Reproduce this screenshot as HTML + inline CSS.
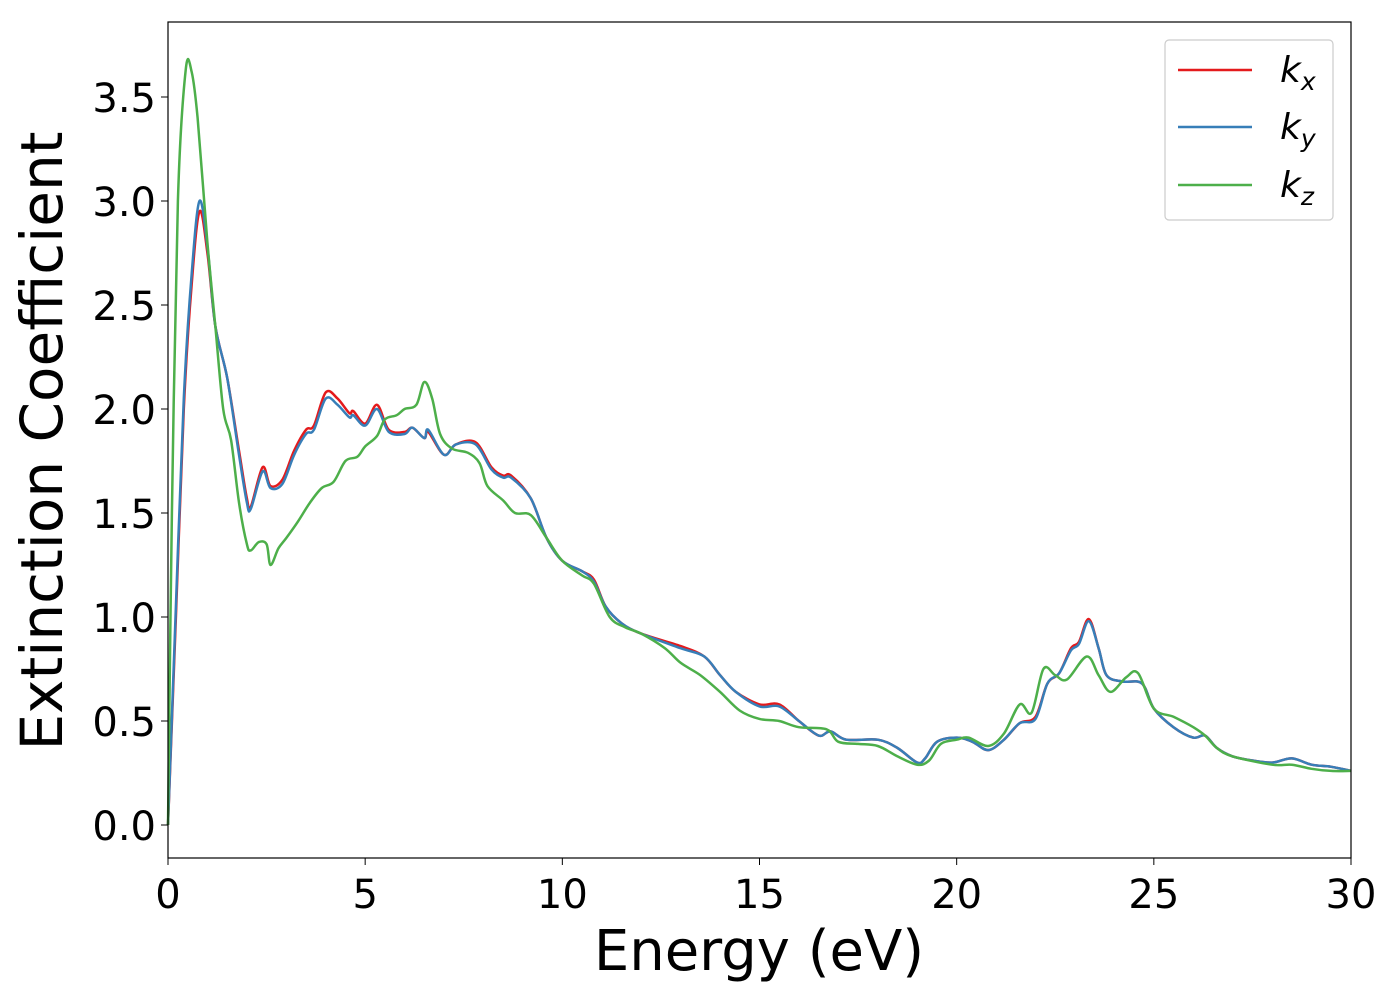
<!DOCTYPE html>
<html><head><meta charset="utf-8"><style>
body{margin:0;background:#fff;}
svg{display:block;font-family:"DejaVu Sans","Liberation Sans",sans-serif;}
</style></head><body>
<svg id="chart" width="1400" height="1000">
<rect x="0" y="0" width="1400" height="1000" fill="#fff"/>
<g id="series"></g>
<g id="xticks"></g>
<g id="yticks"></g>
<rect x="168" y="22" width="1183" height="836" fill="none" stroke="#000" stroke-width="1.2"/>
<text x="759" y="970" font-size="56" text-anchor="middle">Energy (eV)</text>
<text transform="translate(62,441) rotate(-90)" font-size="58" text-anchor="middle">Extinction Coefficient</text>
<g>
<rect x="1165" y="40" width="168" height="180" rx="4" fill="#fff" stroke="#ccc" stroke-width="1.2"/>
<g><line x1="1178" y1="70" x2="1252" y2="70" stroke="#e41a1c" stroke-width="2.5"/><text x="1280" y="82" font-size="36" font-style="italic">k<tspan font-size="25" dy="8">x</tspan></text></g>
<g><line x1="1178" y1="127" x2="1252" y2="127" stroke="#377eb8" stroke-width="2.5"/><text x="1280" y="139" font-size="36" font-style="italic">k<tspan font-size="25" dy="8">y</tspan></text></g>
<g><line x1="1178" y1="185" x2="1252" y2="185" stroke="#4daf4a" stroke-width="2.5"/><text x="1280" y="197" font-size="36" font-style="italic">k<tspan font-size="25" dy="8">z</tspan></text></g>
</g>
</svg>
<script>
const xTicks=[0,5,10,15,20,25,30];
const yTicks=[0,0.5,1.0,1.5,2.0,2.5,3.0,3.5];
const eXY=[0,0.2,0.4,0.6,0.8,1.0,1.2,1.5,1.8,2.0,2.1,2.4,2.6,2.9,3.2,3.5,3.7,4.0,4.3,4.6,4.7,5.0,5.3,5.6,6.0,6.2,6.5,6.6,7.0,7.3,7.8,8.2,8.5,8.7,9.2,9.6,10.0,10.5,10.8,11.1,11.5,12.0,13.0,13.6,14.0,14.4,15.0,15.5,16.0,16.5,16.8,17.2,18.0,18.5,19.0,19.2,19.5,20.0,20.4,20.8,21.2,21.6,22.0,22.3,22.6,22.9,23.1,23.35,23.6,23.8,24.2,24.7,25.0,25.5,26.0,26.3,26.6,27.0,27.5,28.0,28.5,29.0,29.5,30];
const kx=[0,1.0,2.0,2.6,2.95,2.75,2.4,2.15,1.8,1.57,1.53,1.72,1.63,1.66,1.8,1.9,1.92,2.08,2.05,1.98,1.99,1.93,2.02,1.9,1.89,1.91,1.86,1.89,1.78,1.83,1.84,1.72,1.68,1.68,1.57,1.38,1.27,1.22,1.18,1.05,0.97,0.92,0.86,0.81,0.72,0.64,0.58,0.58,0.5,0.43,0.45,0.41,0.41,0.37,0.30,0.32,0.40,0.42,0.40,0.36,0.41,0.49,0.52,0.68,0.73,0.85,0.88,0.99,0.85,0.72,0.69,0.68,0.56,0.47,0.42,0.43,0.37,0.33,0.31,0.30,0.32,0.29,0.28,0.26];
const ky=[0,1.05,2.05,2.65,3.0,2.78,2.4,2.15,1.78,1.55,1.52,1.70,1.62,1.64,1.78,1.88,1.9,2.05,2.02,1.96,1.97,1.92,2.0,1.89,1.88,1.91,1.86,1.9,1.78,1.83,1.83,1.71,1.67,1.67,1.57,1.38,1.27,1.22,1.17,1.05,0.97,0.92,0.85,0.81,0.72,0.64,0.57,0.57,0.5,0.43,0.45,0.41,0.41,0.37,0.30,0.32,0.40,0.42,0.40,0.36,0.41,0.49,0.51,0.68,0.73,0.84,0.87,0.98,0.85,0.72,0.69,0.68,0.56,0.47,0.42,0.43,0.37,0.33,0.31,0.30,0.32,0.29,0.28,0.26];
const eZ=[0,0.1,0.25,0.45,0.6,0.75,1.0,1.2,1.4,1.6,1.8,2.0,2.1,2.3,2.5,2.6,2.8,3.0,3.3,3.6,3.9,4.2,4.5,4.8,5.0,5.3,5.5,5.8,6.0,6.3,6.5,6.7,6.9,7.2,7.6,7.9,8.1,8.5,8.8,9.2,9.6,10.0,10.5,10.8,11.2,11.6,12.0,12.6,13.0,13.5,14.0,14.5,15.0,15.5,16.0,16.7,17.0,17.5,18.0,18.5,19.0,19.3,19.6,20.0,20.3,20.8,21.2,21.6,21.9,22.2,22.5,22.8,23.3,23.6,23.9,24.3,24.6,25.0,25.5,26.0,26.3,26.6,27.0,28.0,28.5,29.0,29.5,30];
const kz=[0,1.5,3.0,3.63,3.62,3.4,2.8,2.4,2.0,1.85,1.55,1.35,1.32,1.36,1.35,1.25,1.33,1.38,1.46,1.55,1.62,1.65,1.75,1.77,1.82,1.87,1.95,1.97,2.0,2.02,2.13,2.05,1.88,1.81,1.79,1.74,1.63,1.56,1.5,1.49,1.38,1.27,1.2,1.16,1.0,0.95,0.92,0.85,0.78,0.72,0.64,0.55,0.51,0.50,0.47,0.46,0.40,0.39,0.38,0.33,0.29,0.31,0.39,0.41,0.42,0.38,0.44,0.58,0.54,0.75,0.72,0.70,0.81,0.72,0.64,0.71,0.73,0.56,0.52,0.47,0.43,0.37,0.33,0.29,0.29,0.27,0.26,0.26];

const NS='http://www.w3.org/2000/svg';
const X0=168,X1=1351,Y0=825,PX_PER=208;
function sx(v){return X0+(v-0)/30*(X1-X0);}
function sy(v){return Y0-v*PX_PER;}
function path(xs,ys){
  const p=xs.map((x,i)=>[sx(x),sy(ys[i])]);
  let d='M'+p[0][0].toFixed(1)+','+p[0][1].toFixed(1);
  for(let i=0;i<p.length-1;i++){
    const a=p[Math.max(i-1,0)],b=p[i],c=p[i+1],e=p[Math.min(i+2,p.length-1)];
    const c1=[b[0]+(c[0]-a[0])/6,b[1]+(c[1]-a[1])/6],c2=[c[0]-(e[0]-b[0])/6,c[1]-(e[1]-b[1])/6];
    d+=' C'+c1[0].toFixed(1)+','+c1[1].toFixed(1)+' '+c2[0].toFixed(1)+','+c2[1].toFixed(1)+' '+c[0].toFixed(1)+','+c[1].toFixed(1);
  }
  return d;
}
const g=document.getElementById('series');
[[eXY,kx,'#e41a1c','line-kx'],[eXY,ky,'#377eb8','line-ky'],[eZ,kz,'#4daf4a','line-kz']].forEach(s=>{
  const el=document.createElementNS(NS,'path');
  el.setAttribute('d',path(s[0],s[1]));
  el.setAttribute('fill','none');el.setAttribute('stroke',s[2]);el.setAttribute('stroke-width','2.5');
  
  
  g.appendChild(el);
});
const xg=document.getElementById('xticks');
xTicks.forEach(v=>{
  const l=document.createElementNS(NS,'line');
  l.setAttribute('x1',sx(v));l.setAttribute('x2',sx(v));l.setAttribute('y1',858);l.setAttribute('y2',865);l.setAttribute('stroke','#000');
  
  
  xg.appendChild(l);
  const t=document.createElementNS(NS,'text');
  t.setAttribute('x',sx(v));t.setAttribute('y',908);t.setAttribute('font-size','40');t.setAttribute('text-anchor','middle');
  t.textContent=String(v);
  
  
  xg.appendChild(t);
});
const yg=document.getElementById('yticks');
yTicks.forEach(v=>{
  const l=document.createElementNS(NS,'line');
  l.setAttribute('x1',161);l.setAttribute('x2',168);l.setAttribute('y1',sy(v));l.setAttribute('y2',sy(v));l.setAttribute('stroke','#000');
  
  
  yg.appendChild(l);
  const t=document.createElementNS(NS,'text');
  t.setAttribute('x',156);t.setAttribute('y',sy(v)+15);t.setAttribute('font-size','40');t.setAttribute('text-anchor','end');
  t.textContent=v.toFixed(1);
  
  
  yg.appendChild(t);
});
</script>
</body></html>
